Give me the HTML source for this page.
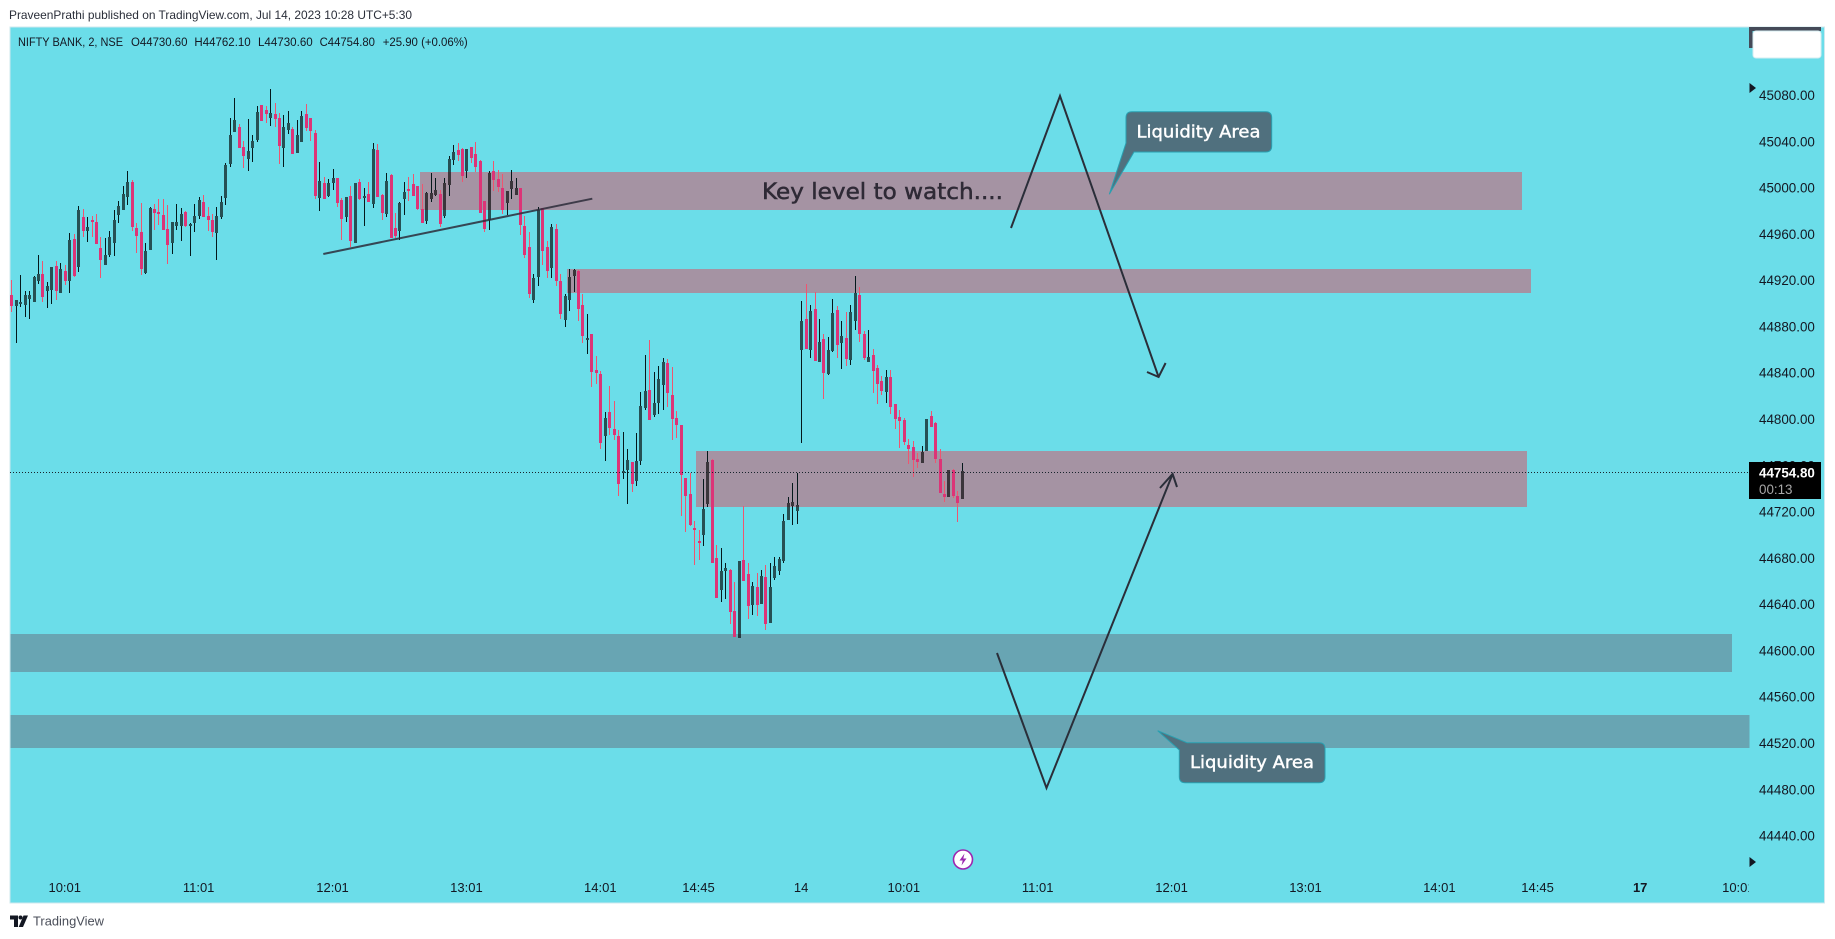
<!DOCTYPE html>
<html lang="en">
<head>
<meta charset="utf-8">
<title>NIFTY BANK chart</title>
<style>
html,body{margin:0;padding:0;background:#fff;width:1835px;height:939px;overflow:hidden}
svg{display:block;font-family:"Liberation Sans",Arial,sans-serif}
</style>
</head>
<body>
<svg id="chart" xmlns="http://www.w3.org/2000/svg" width="1835" height="939" viewBox="0 0 1835 939">
  <defs><clipPath id="timeClip"><rect x="10" y="860" width="1739" height="43"/></clipPath></defs>
  <rect x="0" y="0" width="1835" height="939" fill="#ffffff"/>
  <text x="9" y="19" font-size="12" fill="#2a2e39" textLength="403" lengthAdjust="spacingAndGlyphs">PraveenPrathi published on TradingView.com, Jul 14, 2023 10:28 UTC+5:30</text>
  <rect x="10" y="27" width="1814.5" height="876" fill="#6bdde9" stroke="#cfe8ee" stroke-width="1"/>

  <g>
    <rect x="420" y="172" width="1102" height="38" fill="#a593a3"/>
    <rect x="567" y="269" width="964" height="24" fill="#a593a3"/>
    <rect x="696" y="451" width="831" height="56" fill="#a593a3"/>
    <rect x="10.5" y="634" width="1721.5" height="38" fill="#68a5b3"/>
    <rect x="10.5" y="715" width="1739" height="33" fill="#68a5b3"/>
  </g>

  <g id="candles"></g>
  <line id="lastLine" x1="10" x2="1749" stroke="#17232b" stroke-width="1" stroke-dasharray="1 2"/>

  <line x1="323.3" y1="254" x2="592.3" y2="198.7" stroke="#2b2b3a" stroke-opacity="0.85" stroke-width="2"/>
  <polyline points="1011,228 1060,96 1158.6,377" fill="none" stroke="#2a2e39" stroke-width="2"/>
  <polyline points="1147,372 1158.6,377 1165.6,363" fill="none" stroke="#2a2e39" stroke-width="2"/>
  <polyline points="997,653 1046.5,788 1172.6,474" fill="none" stroke="#2a2e39" stroke-width="2"/>
  <polyline points="1160,488 1172.6,474 1177,487" fill="none" stroke="#2a2e39" stroke-width="2"/>

  <text x="762" y="199" font-family="'DejaVu Sans',sans-serif" font-size="22" fill="#2f2a36" stroke="#2f2a36" stroke-width="0.5" textLength="241" lengthAdjust="spacingAndGlyphs">Key level to watch....</text>

  <g>
    <path d="M1132,111.7 H1265.7 Q1271.7,111.7 1271.7,117.7 V146 Q1271.7,152 1265.7,152 H1134 L1109.3,194.3 L1126,143 V117.7 Q1126,111.7 1132,111.7 Z" fill="#50707e" stroke="#2a9fb0" stroke-width="1"/>
    <text x="1136.5" y="137.5" font-family="'DejaVu Sans',sans-serif" font-size="17" fill="#ffffff" stroke="#ffffff" stroke-width="0.4" textLength="124" lengthAdjust="spacingAndGlyphs">Liquidity Area</text>
  </g>
  <g>
    <path d="M1187,742.7 H1319 Q1325,742.7 1325,748.7 V776.7 Q1325,782.7 1319,782.7 H1185.3 Q1179.3,782.7 1179.3,776.7 V750 L1157.7,730.7 Z" fill="#50707e" stroke="#2a9fb0" stroke-width="1"/>
    <text x="1190" y="768" font-family="'DejaVu Sans',sans-serif" font-size="17" fill="#ffffff" stroke="#ffffff" stroke-width="0.4" textLength="124" lengthAdjust="spacingAndGlyphs">Liquidity Area</text>
  </g>

  <g font-size="12.4" fill="#131722">
    <text x="18" y="46" textLength="105" lengthAdjust="spacingAndGlyphs">NIFTY BANK, 2, NSE</text>
    <text x="131" y="46" textLength="56.5" lengthAdjust="spacingAndGlyphs">O44730.60</text>
    <text x="194.4" y="46" textLength="56.3" lengthAdjust="spacingAndGlyphs">H44762.10</text>
    <text x="258" y="46" textLength="54.7" lengthAdjust="spacingAndGlyphs">L44730.60</text>
    <text x="319.6" y="46" textLength="55.4" lengthAdjust="spacingAndGlyphs">C44754.80</text>
    <text x="382.7" y="46" textLength="85" lengthAdjust="spacingAndGlyphs">+25.90 (+0.06%)</text>
  </g>

  <g id="priceAxis"></g>
  <g id="timeAxis" clip-path="url(#timeClip)"></g>

  <path d="M1749,27 H1821 V31 H1752.5 V48 H1749 Z" fill="#454a58"/>
  <rect x="1753" y="31" width="68" height="27" rx="3" fill="#ffffff" stroke="#d6eef2" stroke-width="1"/>
  <polygon points="1749.5,83 1756,88 1749.5,93" fill="#131722"/>
  <polygon points="1749.5,857 1756,862 1749.5,867" fill="#131722"/>

  <g>
    <rect x="1749" y="462" width="72" height="37" fill="#000000"/>
    <text x="1759" y="477.5" font-size="13.4" font-weight="bold" fill="#ffffff">44754.80</text>
    <text x="1759" y="494" font-size="13.4" fill="#a8a8a8">00:13</text>
  </g>

  <g>
    <circle cx="963" cy="859.5" r="9.5" fill="#ffffff" stroke="#9c27b0" stroke-width="1.6"/>
    <polygon points="964.5,853.5 959.5,860.5 962.7,860.5 961.5,865.5 966.5,858.5 963.3,858.5" fill="#9c27b0"/>
  </g>

  <g>
    <path d="M10,915.5 H18 V927 H14 V919.5 H10 Z" fill="#131722"/>
    <circle cx="20.5" cy="917.5" r="2" fill="#131722"/>
    <polygon points="23.5,915.5 28,915.5 23,927 18.7,927" fill="#131722"/>
    <text x="33" y="925.5" font-size="12.6" fill="#4a4e59" textLength="71" lengthAdjust="spacingAndGlyphs">TradingView</text>
  </g>
</svg>
<script>
const opens=[44907.2,44897.7,44899.4,44898.6,44903.8,44901.2,44919.3,44925.4,44910.7,44911.5,
44932.3,44909,44928,44919.3,44955.6,44931.4,44974.6,44962.5,44972,44970.3,
44947.8,44933.1,44941.8,44952.1,44976.3,44980.7,44991.9,45004.9,44965.1,44961.6,
44926.2,44946.1,44981.5,44978.9,44976.3,44964.2,44952.1,44966.8,44966.8,44978.9,
44966.8,44969.4,44975.5,44987.6,44975.5,44972,44960.8,44974.6,44991,45020.4,
45048,45052.4,45035.1,45024.7,45034.2,45041.1,45071.4,45067,45060.1,45063.6,
45060.1,45034.2,45049.8,45050.6,45029.9,45039.4,45063.6,45060.1,45047.2,44991,
45004,44992.8,45004,45008.3,44989.3,44974.6,44992.8,44952.1,45004.9,44991,
44994.5,44985.8,45032.5,44993.6,44977.2,45010.9,44965.1,44962.5,44990.2,44998.8,
45003.1,45001.4,44981.5,44971.2,44990.2,44993.6,44994.5,44975.5,45002.3,45023.9,
45032.5,45033.4,45014.4,45035.1,45029,45023,44988.4,44972,45014.4,45007.4,
44999.7,44986.7,44998.8,44993.6,44999.7,44966.8,44948.7,44902.9,44922.8,44982.4,
44948.7,44930.5,44964.2,44919.3,44885.6,44902.9,44923.6,44927.9,44898.6,44868.3,
44873.5,44842.4,44838.9,44785.4,44806.1,44791.4,44785.4,44753.4,44756,44762.9,
44746.5,44763.8,44809.6,44825.1,44803.5,44813.9,44829.4,44848.4,44820.8,44800.9,
44794.9,44749.1,44735.3,44705.9,44694.7,44699.8,44726.6,44764.6,44680,44652.3,
44668.7,44669.6,44634.2,44610.8,44678.2,44666.1,44639.4,44654.9,44640.2,44663.6,
44623.8,44662.7,44668.7,44677.4,44712.8,44724.9,44720.6,44859.6,44886.4,44859.6,
44895,44849.3,44869.1,44838.9,44858.8,44894.2,44865.7,44870,44851,44884.7,
44907.2,44873.5,44849.3,44855.3,44844.1,44832.9,44823.4,44836.3,44813,44801.8,
44799.2,44777.6,44775.9,44765.5,44762,44772.4,44802.7,44796.6,44765.5,44735.3,
44732.7,44756,44733.5,44730.6];
const highs=[44920.2,44902.9,44924.5,44910.7,44910.7,44923.6,44941.8,44936.6,44918.5,44931.4,
44936.6,44934.9,44933.1,44960.8,44959.9,44984.1,44981.5,44974.6,44975.5,44977.2,
44957.3,44956.5,44962.5,44980.7,44988.4,45001.4,45014.4,45006.6,44969.4,44986.7,
44952.1,44983.3,44985.8,44990.2,44990.2,44985,44970.3,44985.8,44982.4,44979.8,
44969.4,44985.8,44991.9,44993.6,44983.3,44977.2,44983.3,44992.8,45021.3,45060.1,
45077.4,45055,45040.3,45059.3,45045.5,45070.5,45071.4,45070.5,45085.2,45073.1,
45064.5,45062.7,45066.2,45052.4,45058.4,45066.2,45072.2,45060.1,45049.8,45022.1,
45009.2,45007.4,45016.1,45008.3,44991,44991.9,45001.4,45004,45007.4,44999.7,
45004.9,45038.5,45037.7,44994.5,45012.6,45011.8,44978.1,44987.6,45004.9,45009.2,
45011.8,45001.4,45003.1,44996.2,45012.6,45008.3,44997.9,45008.3,45027.3,45036.8,
45038.5,45034.2,45033.4,45035.1,45039.4,45023.9,44988.4,45014.4,45023,45015.2,
45011.8,44997.1,45015.2,45008.3,44999.7,44975.5,44961.6,44925.4,44983.3,44982.4,
44953.9,44968.6,44968.6,44925.4,44908.1,44929.7,44929.7,44928.8,44908.1,44890.8,
44873.5,44854.5,44841.5,44806.1,44828.6,44815.6,44790.6,44788.8,44774.1,44762.9,
44788,44823.4,44855.4,44868.3,44840.7,44845.9,44852.8,44851.9,44845,44807,
44794.9,44749.1,44753.4,44711.9,44704.2,44748.2,44772.4,44765.5,44691.2,44688.6,
44675.6,44670.5,44659.2,44677.4,44724.9,44675.6,44659.2,44667,44669.6,44673.9,
44675.6,44680.8,44680.8,44718,44732.7,44744.8,44753.4,44902,44916.7,44898.5,
44909.8,44886.4,44873.5,44870.9,44903.7,44897.7,44884.7,44892.5,44898.5,44923.6,
44914.1,44876,44876.9,44860.5,44846.7,44837.2,44842.4,44842.4,44813,44807.8,
44800.9,44782.8,44781.1,44770.7,44776.7,44800,44807,44797.5,44774.1,44746.5,
44756,44756.9,44737.9,44762.1];
const lows=[44892.5,44865.7,44897.1,44888.2,44886.5,44901.2,44916.7,44901.2,44896,44899.4,
44902.9,44909,44915.9,44909,44922.8,44927,44957.3,44953,44957.3,44951.3,
44921.9,44933.1,44940,44940.9,44969.4,44980.7,44985,44962.5,44943.5,44924.5,
44925.4,44946.1,44963.4,44967.7,44963.4,44934,44942.6,44963.4,44953.9,44966,
44940.9,44961.6,44972.9,44974.6,44962.5,44957.3,44937.5,44972.9,44985,45017.8,
45048,45034.2,45016.9,45014.4,45022.1,45039.4,45057.6,45055.8,45053.2,45052.4,
45020.4,45017.8,45046.3,45029,45029.9,45039.4,45048.9,45040.3,44990.2,44979.8,
44990.2,44991.9,44997.9,44983.3,44954.7,44970.3,44948.7,44952.1,44989.3,44966.8,
44987.6,44982.4,44991.9,44972,44974.6,44956.5,44956.5,44954.7,44976.3,44988.4,
44992.8,44980.7,44969.4,44968.6,44987.6,44992.8,44966,44973.7,44992.8,45019.5,
45023,45004.9,45008.3,45021.3,45013.5,44978.1,44961.6,44963.4,44997.1,44996.2,
44977.2,44976.3,44990.2,44993.6,44959.1,44939.2,44904.6,44900.3,44915,44933.1,
44921.9,44921.9,44915,44886.5,44879.6,44893.4,44909.8,44884.8,44865.7,44856.2,
44827.7,44830.3,44774.1,44763.8,44786.2,44781.9,44733.5,44748.2,44726.6,44737,
44742.2,44760.3,44807.8,44799.2,44801.8,44804.4,44807.8,44810.4,44781.9,44783.6,
44716.3,44702.4,44707.6,44673.9,44678.2,44690.3,44724,44675.6,44645.4,44642,
44644.5,44622.9,44611.7,44610.8,44660.1,44627.3,44630.7,44629.9,44640.2,44617.8,
44623.8,44660.9,44665.3,44675.6,44712.8,44708.5,44709.3,44779.3,44860.5,44852.7,
44850.1,44849.3,44817.3,44838,44857.9,44852.7,44843.2,44845.8,44846.7,44876.9,
44866.6,44851,44849.3,44822.5,44813,44820.8,44813.8,44804.3,44791.4,44775,
44777.6,44761.2,44750,44757.7,44762,44772.4,44793.2,44762,44736.1,44728.4,
44732.7,44731.8,44711.1,44730.6];
const closes=[44897.7,44902.9,44901.2,44907.2,44907.2,44922.8,44925.4,44905.5,44915,44931.4,
44910.7,44929.7,44919.3,44954.7,44923.6,44980.7,44962.5,44965.9,44971.2,44951.3,
44937.5,44941.8,44957.3,44972,44984.1,44994.5,45004.9,44965.9,44958.2,44929.7,
44945.2,44982.4,44978.1,44977.2,44963.4,44950.4,44970.3,44970.3,44977.2,44966.8,
44968.6,44975.5,44989.3,44974.6,44972,44961.6,44975.5,44987.6,45019.5,45045.5,
45058.4,45034.2,45027.3,45031.6,45040.3,45065.3,45057.6,45063.6,45064.5,45059.3,
45036,45052.4,45055.8,45029,45045.5,45061.9,45051.5,45048.9,44992.8,45005.7,
44990.2,45004,45008.3,44986.7,44972.9,44991.9,44953.9,45004,44990.2,44992.8,
44987.6,45033.4,44991.9,44978.1,45005.7,44956.5,44958.2,44986.7,44996.2,44997.1,
44992.8,44981.5,44969.4,44995.3,44995.3,44997.9,44968.6,45004,45024.7,45030.8,
45028.2,45010,45033.4,45025.6,45017.8,44978.1,44964.2,45012.6,45006.6,45000.5,
44980.7,44997.1,45005.7,44999.7,44967.7,44941.8,44908.1,44921.9,44980.7,44945.2,
44927.9,44966,44919.3,44890.8,44906.4,44922.8,44928.8,44895.1,44871.8,44870,
44840.7,44839.8,44779.3,44800.9,44792.3,44786.2,44743.9,44755.1,44764.6,44743.9,
44763.8,44811.3,44824.3,44799.2,44813.9,44834.6,44849.3,44822.5,44800,44794.9,
44751.7,44733.5,44708.5,44705,44693.8,44722.3,44762.9,44675.6,44645.4,44668.7,
44671.3,44633.3,44611.7,44677.4,44660.1,44638.5,44655.8,44639.4,44664.4,44622.9,
44654.9,44673,44679.1,44711.9,44727.5,44728.4,44725.8,44884.7,44860.5,44893.3,
44850.1,44866.6,44839.8,44859.6,44891.6,44864,44871.7,44851.9,44892.5,44908.9,
44873.5,44852.7,44853.6,44841.5,44830.3,44824.2,44836.3,44810.4,44800,44798.3,
44780.2,44774.1,44764.6,44762.9,44771.6,44800,44793.2,44765.5,44736.1,44732.7,
44756,44733.5,44727.5,44754.8];
const priceTicks=[45080,45040,45000,44960,44920,44880,44840,44800,44760,44720,44680,44640,44600,44560,44520,44480,44440];
const timeTickLabels=["10:01","11:01","12:01","13:01","14:01","14:45","14","10:01","11:01","12:01","13:01","14:01","14:45","17","10:01"];
const timeTickBars=[12,42,72,102,132,154,177,200,230,260,290,320,342,365,387];

const SVG_NS="http://www.w3.org/2000/svg";
function xScale(bar){return 11.2+4.463*bar;}
function yScale(price){return 95+(45080-price)*1.1571;}

const candleGroup=document.getElementById("candles");
for(let i=0;i<opens.length;i++){
  const up=closes[i]>=opens[i];
  const cx=Math.round(xScale(i));
  const wickTop=Math.round(yScale(highs[i]));
  const wickBottom=Math.round(yScale(lows[i]));
  const bodyTop=Math.round(yScale(Math.max(opens[i],closes[i])));
  const bodyBottom=Math.max(bodyTop+2,Math.round(yScale(Math.min(opens[i],closes[i]))));
  const wick=document.createElementNS(SVG_NS,"path");
  const upperWick="M"+cx+" "+wickTop+"h1V"+bodyTop+"h-1Z";
  const lowerWick="M"+cx+" "+bodyBottom+"h1V"+Math.max(bodyBottom,wickBottom)+"h-1Z";
  wick.setAttribute("d",upperWick+lowerWick);
  wick.setAttribute("fill",up?"#04181b":"#ef5570");
  
  
  candleGroup.appendChild(wick);
  const body=document.createElementNS(SVG_NS,"rect");
  body.setAttribute("x",cx-1);
  body.setAttribute("y",bodyTop);
  body.setAttribute("width",3);
  body.setAttribute("height",bodyBottom-bodyTop);
  body.setAttribute("fill",up?"rgba(0,0,0,0.64)":"#dc3477");
  
  
  candleGroup.appendChild(body);
}

const lastLine=document.getElementById("lastLine");
const lastY=Math.ceil(yScale(closes[closes.length-1]))+0.5;
lastLine.setAttribute("y1",lastY);
lastLine.setAttribute("y2",lastY);

const priceAxis=document.getElementById("priceAxis");
priceTicks.forEach(function(tick){
  const label=document.createElementNS(SVG_NS,"text");
  label.setAttribute("x",1759);
  label.setAttribute("y",yScale(tick)+5);
  label.setAttribute("font-size","13.4");
  label.setAttribute("fill","#131722");
  
  
  label.textContent=tick.toFixed(2);
  priceAxis.appendChild(label);
});

const timeAxis=document.getElementById("timeAxis");
timeTickLabels.forEach(function(text,i){
  const label=document.createElementNS(SVG_NS,"text");
  label.setAttribute("x",xScale(timeTickBars[i]));
  label.setAttribute("y",892);
  label.setAttribute("font-size","13");
  label.setAttribute("text-anchor","middle");
  label.setAttribute("fill","#131722");
  if(text==="17"){label.setAttribute("font-weight","bold");}
  
  
  label.textContent=text;
  timeAxis.appendChild(label);
});
</script>
</body>
</html>
